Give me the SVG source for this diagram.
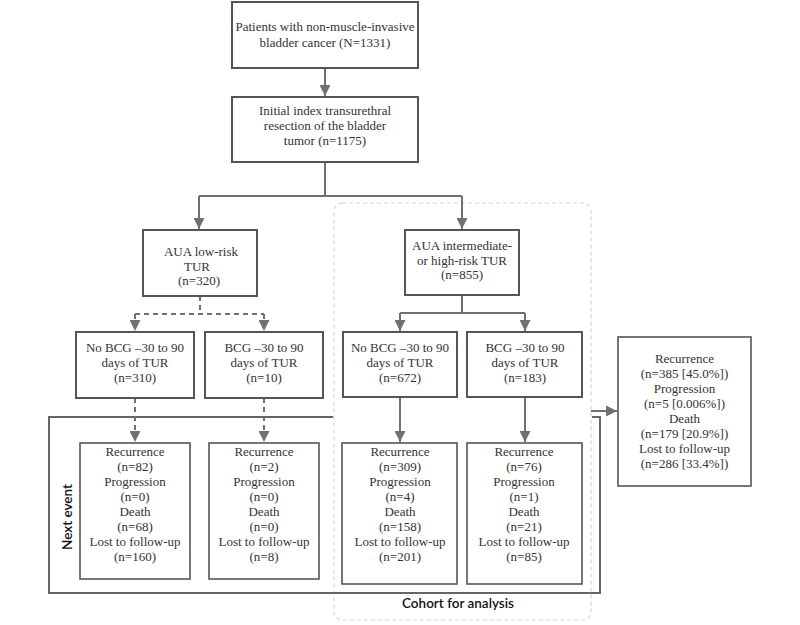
<svg xmlns="http://www.w3.org/2000/svg" width="800" height="625" viewBox="0 0 800 625">
<defs>
<style>
.box{fill:#fff;stroke:#555;stroke-width:2}
.box2{fill:#fff;stroke:#555;stroke-width:1.6}
.t{font-family:'Liberation Serif','Tinos','DejaVu Serif',serif;font-size:13px;fill:#333;text-anchor:middle}
.c{fill:none;stroke:#707070;stroke-width:2}
.d{fill:none;stroke:#707070;stroke-width:2;stroke-dasharray:5,4}
.f{fill:none;stroke:#666;stroke-width:2}
.lab{font-family:Lato,'Liberation Sans',sans-serif;font-size:13.5px;font-weight:600;fill:#111;text-anchor:middle}
</style>
<marker id="ah" viewBox="0 0 10 10" refX="10" refY="5" markerWidth="11" markerHeight="11" markerUnits="userSpaceOnUse" orient="auto">
<path d="M0,0 L10,5 L0,10 Z" fill="#707070"/>
</marker>
</defs>
<rect width="800" height="625" fill="#fff"/>

<g id="cohort-region">
<rect x="334" y="203" width="257" height="417" rx="8" ry="8" fill="none" stroke="#ddd2d2" stroke-width="1.2" stroke-dasharray="4,3"/>
<text class="lab" x="458" y="608">Cohort for analysis</text>
</g>

<g id="next-event-frame">
<path class="f" d="M333,417 H49 V593 H600 V417 H592"/>
<text class="lab" transform="translate(72,517) rotate(-90)">Next event</text>
</g>

<g id="connectors">
<line class="c" x1="325" y1="68" x2="325" y2="96" marker-end="url(#ah)"/>
<path class="c" d="M325,162 V196"/>
<path class="c" d="M199,196 H462"/>
<line class="c" x1="199" y1="196" x2="199" y2="229" marker-end="url(#ah)"/>
<line class="c" x1="462" y1="196" x2="462" y2="229" marker-end="url(#ah)"/>
<path class="d" d="M200,296 V314"/>
<path class="d" d="M135,314 H264"/>
<line class="d" x1="135" y1="314" x2="135" y2="331" marker-end="url(#ah)"/>
<line class="d" x1="264" y1="314" x2="264" y2="331" marker-end="url(#ah)"/>
<path class="c" d="M462,295 V313"/>
<path class="c" d="M400,313 H525"/>
<line class="c" x1="400" y1="313" x2="400" y2="331" marker-end="url(#ah)"/>
<line class="c" x1="525" y1="313" x2="525" y2="331" marker-end="url(#ah)"/>
<line class="d" x1="135" y1="398" x2="135" y2="442" marker-end="url(#ah)"/>
<line class="d" x1="264" y1="398" x2="264" y2="442" marker-end="url(#ah)"/>
<line class="c" x1="400" y1="397" x2="400" y2="442" marker-end="url(#ah)"/>
<line class="c" x1="525" y1="397" x2="525" y2="442" marker-end="url(#ah)"/>
<line class="c" x1="591" y1="411" x2="617" y2="411" marker-end="url(#ah)"/>
</g>

<g id="n-patients">
<rect class="box" x="232" y="2" width="186" height="66"/>
<text class="t" x="325" y="30.5">Patients with non-muscle-invasive</text>
<text class="t" x="325" y="46.5">bladder cancer (N=1331)</text>
</g>

<g id="n-initial">
<rect class="box" x="232" y="97" width="186" height="65"/>
<text class="t" x="325" y="114.5">Initial index transurethral</text>
<text class="t" x="325" y="129.5">resection of the bladder</text>
<text class="t" x="325" y="144.5">tumor (n=1175)</text>
</g>

<g id="n-low">
<rect class="box" x="143" y="230" width="114" height="66"/>
<text class="t" x="201" y="255.5">AUA low-risk</text>
<text class="t" x="197" y="270.5">TUR</text>
<text class="t" x="199" y="285">(n=320)</text>
</g>

<g id="n-int">
<rect class="box" x="405" y="230" width="114" height="65"/>
<text class="t" x="462" y="249.5">AUA intermediate-</text>
<text class="t" x="462" y="264.5">or high-risk TUR</text>
<text class="t" x="462" y="278.5">(n=855)</text>
</g>

<g id="n-low-nobcg">
<rect class="box" x="76" y="332" width="118" height="66"/>
<text class="t" x="135" y="351.5">No BCG –30 to 90</text>
<text class="t" x="135" y="366.5">days of TUR</text>
<text class="t" x="135" y="381.5">(n=310)</text>
</g>

<g id="n-low-bcg">
<rect class="box" x="205" y="332" width="118" height="66"/>
<text class="t" x="264" y="351.5">BCG –30 to 90</text>
<text class="t" x="264" y="366.5">days of TUR</text>
<text class="t" x="264" y="381.5">(n=10)</text>
</g>

<g id="n-int-nobcg">
<rect class="box" x="343" y="332" width="114" height="65"/>
<text class="t" x="400" y="351.5">No BCG –30 to 90</text>
<text class="t" x="400" y="366.5">days of TUR</text>
<text class="t" x="400" y="381.5">(n=672)</text>
</g>

<g id="n-int-bcg">
<rect class="box" x="467" y="332" width="115" height="65"/>
<text class="t" x="525" y="351.5">BCG –30 to 90</text>
<text class="t" x="525" y="366.5">days of TUR</text>
<text class="t" x="525" y="381.5">(n=183)</text>
</g>

<g id="n-ev-a">
<rect class="box2" x="80" y="443" width="110" height="136"/>
<text class="t" x="135" y="455.5">Recurrence</text>
<text class="t" x="135" y="470.5">(n=82)</text>
<text class="t" x="135" y="485.5">Progression</text>
<text class="t" x="135" y="500.5">(n=0)</text>
<text class="t" x="135" y="515.5">Death</text>
<text class="t" x="135" y="530.5">(n=68)</text>
<text class="t" x="135" y="545.5">Lost to follow-up</text>
<text class="t" x="135" y="560.5">(n=160)</text>
</g>

<g id="n-ev-b">
<rect class="box2" x="209" y="443" width="110" height="136"/>
<text class="t" x="264" y="455.5">Recurrence</text>
<text class="t" x="264" y="470.5">(n=2)</text>
<text class="t" x="264" y="485.5">Progression</text>
<text class="t" x="264" y="500.5">(n=0)</text>
<text class="t" x="264" y="515.5">Death</text>
<text class="t" x="264" y="530.5">(n=0)</text>
<text class="t" x="264" y="545.5">Lost to follow-up</text>
<text class="t" x="264" y="560.5">(n=8)</text>
</g>

<g id="n-ev-c">
<rect class="box2" x="342" y="443" width="115" height="141"/>
<text class="t" x="400" y="455.5">Recurrence</text>
<text class="t" x="400" y="470.5">(n=309)</text>
<text class="t" x="400" y="485.5">Progression</text>
<text class="t" x="400" y="500.5">(n=4)</text>
<text class="t" x="400" y="515.5">Death</text>
<text class="t" x="400" y="530.5">(n=158)</text>
<text class="t" x="400" y="545.5">Lost to follow-up</text>
<text class="t" x="400" y="560.5">(n=201)</text>
</g>

<g id="n-ev-d">
<rect class="box2" x="467" y="443" width="115" height="141"/>
<text class="t" x="524" y="455.5">Recurrence</text>
<text class="t" x="524" y="470.5">(n=76)</text>
<text class="t" x="524" y="485.5">Progression</text>
<text class="t" x="524" y="500.5">(n=1)</text>
<text class="t" x="524" y="515.5">Death</text>
<text class="t" x="524" y="530.5">(n=21)</text>
<text class="t" x="524" y="545.5">Lost to follow-up</text>
<text class="t" x="524" y="560.5">(n=85)</text>
</g>

<g id="n-summary">
<rect class="box2" x="618" y="337" width="133" height="149"/>
<text class="t" x="684.5" y="362.5">Recurrence</text>
<text class="t" x="684.5" y="377.5">(n=385 [45.0%])</text>
<text class="t" x="684.5" y="392.5">Progression</text>
<text class="t" x="684.5" y="407.5">(n=5 [0.006%])</text>
<text class="t" x="684.5" y="422.5">Death</text>
<text class="t" x="684.5" y="437.5">(n=179 [20.9%])</text>
<text class="t" x="684.5" y="452.5">Lost to follow-up</text>
<text class="t" x="684.5" y="467.5">(n=286 [33.4%])</text>
</g>
</svg>
